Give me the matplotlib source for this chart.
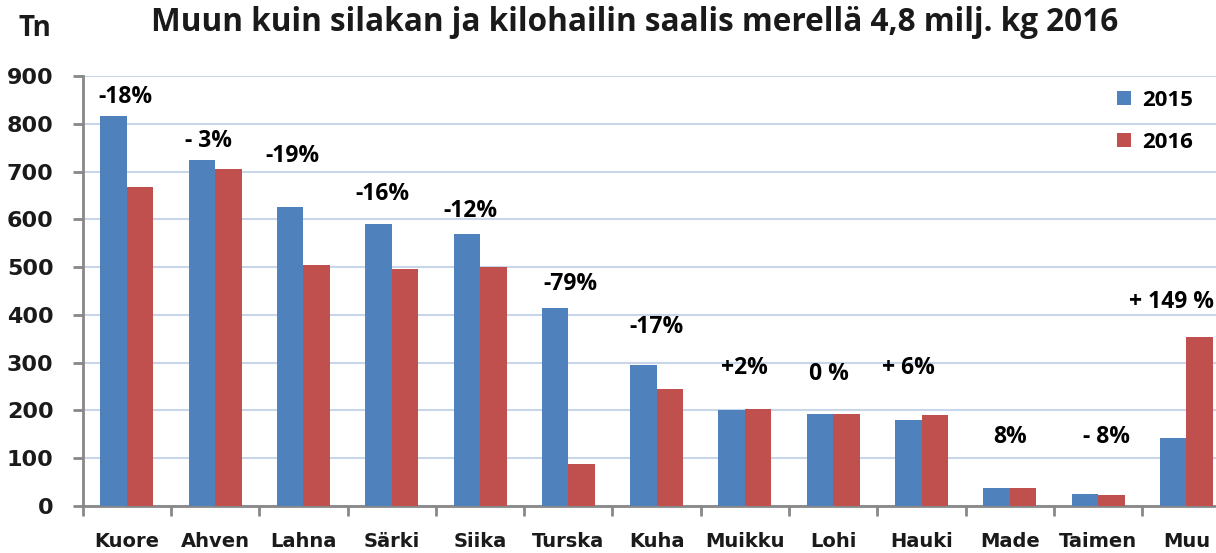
import numpy as np
import matplotlib
matplotlib.use("Agg")
from matplotlib import pyplot as plt

BLUE = "#4F81BD"
RED = "#C0504D"

species = ["Kuore", "Ahven", "Lahna", "Särki", "Siika", "Turska", "Kuha",
           "Muikku", "Lohi", "Hauki", "Made", "Taimen", "Muu"]
catch_2015 = [816, 725, 625, 590, 570, 415, 295, 200, 193, 180, 37, 25, 143]
catch_2016 = [667, 705, 505, 495, 500, 87, 245, 203, 193, 190, 38, 22, 353]
change_labels = ["-18%", "- 3%", "-19%", "-16%", "-12%", "-79%", "-17%",
                 "+2%", "0 %", "+ 6%", "8%", "- 8%", "+ 149 %"]
label_y = [856, 763, 732, 653, 617, 464, 375, 289, 276, 289, 144, 144, 427]
label_dx = [-0.02, -0.08, -0.12, -0.11, -0.11, 0.02, 0.0, 0.0, -0.05,
            -0.15, 0.0, 0.1, 0.0]

fig = plt.figure(figsize=(12.16, 5.53), dpi=100)
ax = fig.add_axes([0.068, 0.085, 0.932, 0.7776])

x = np.arange(len(species))
w = 0.3
ax.bar(x - w / 2, catch_2015, w, color=BLUE, label="2015", zorder=3)
ax.bar(x + w / 2, catch_2016, w, color=RED, label="2016", zorder=3)

for i, (txt, y) in enumerate(zip(change_labels, label_y)):
    if i == len(species) - 1:
        ax.text(0.998, y, txt, ha="right", va="center", fontsize=16.5,
                fontweight="bold", family="Open Sans", color="black",
                transform=ax.get_yaxis_transform())
    else:
        ax.text(i + label_dx[i], y, txt, ha="center", va="center",
                fontsize=16.5, fontweight="bold", family="Open Sans",
                color="black")

ax.set_ylim(0, 900)
ax.set_xlim(-0.5, 12.335)
ax.set_yticks(range(0, 901, 100))
ax.yaxis.grid(True, color="#C9D6EA", linewidth=1.5, zorder=0)
ax.set_axisbelow(True)

ax.set_xticks(x)
ax.set_xticklabels(species)
ax.set_xticks(np.arange(-0.5, 12.5, 1), minor=True)
ax.tick_params(axis="x", which="major", length=0, pad=19)
ax.tick_params(axis="x", which="minor", length=7, width=2, color="#888888",
               direction="out")
ax.tick_params(axis="y", length=7, width=2, color="#888888", direction="out",
               pad=14)
for lab in ax.get_xticklabels():
    lab.set_fontsize(14)
    lab.set_fontweight("bold")
    lab.set_color("#1a1a1a")
for lab in ax.get_yticklabels():
    lab.set_fontsize(16)
    lab.set_fontweight("bold")
    lab.set_color("#1a1a1a")

for s in ["top", "right"]:
    ax.spines[s].set_visible(False)
for s in ["left", "bottom"]:
    ax.spines[s].set_color("#888888")
    ax.spines[s].set_linewidth(2)

leg = ax.legend(loc="upper right", bbox_to_anchor=(0.997, 1.015), frameon=False,
                handlelength=0.6, handleheight=0.6, handletextpad=0.5,
                labelspacing=0.95,
                prop={"family": "Open Sans", "weight": "bold", "size": 16})

fig.text(0.522, 0.96, "Muun kuin silakan ja kilohailin saalis merellä 4,8 milj. kg 2016",
         ha="center", va="center", fontsize=22.7, fontweight="bold",
         family="Open Sans", color="#1a1a1a")
fig.text(0.029, 0.948, "Tn", ha="center", va="center", fontsize=20,
         fontweight="bold", family="Open Sans", color="#1a1a1a")

fig.savefig("out.png", dpi=100)
